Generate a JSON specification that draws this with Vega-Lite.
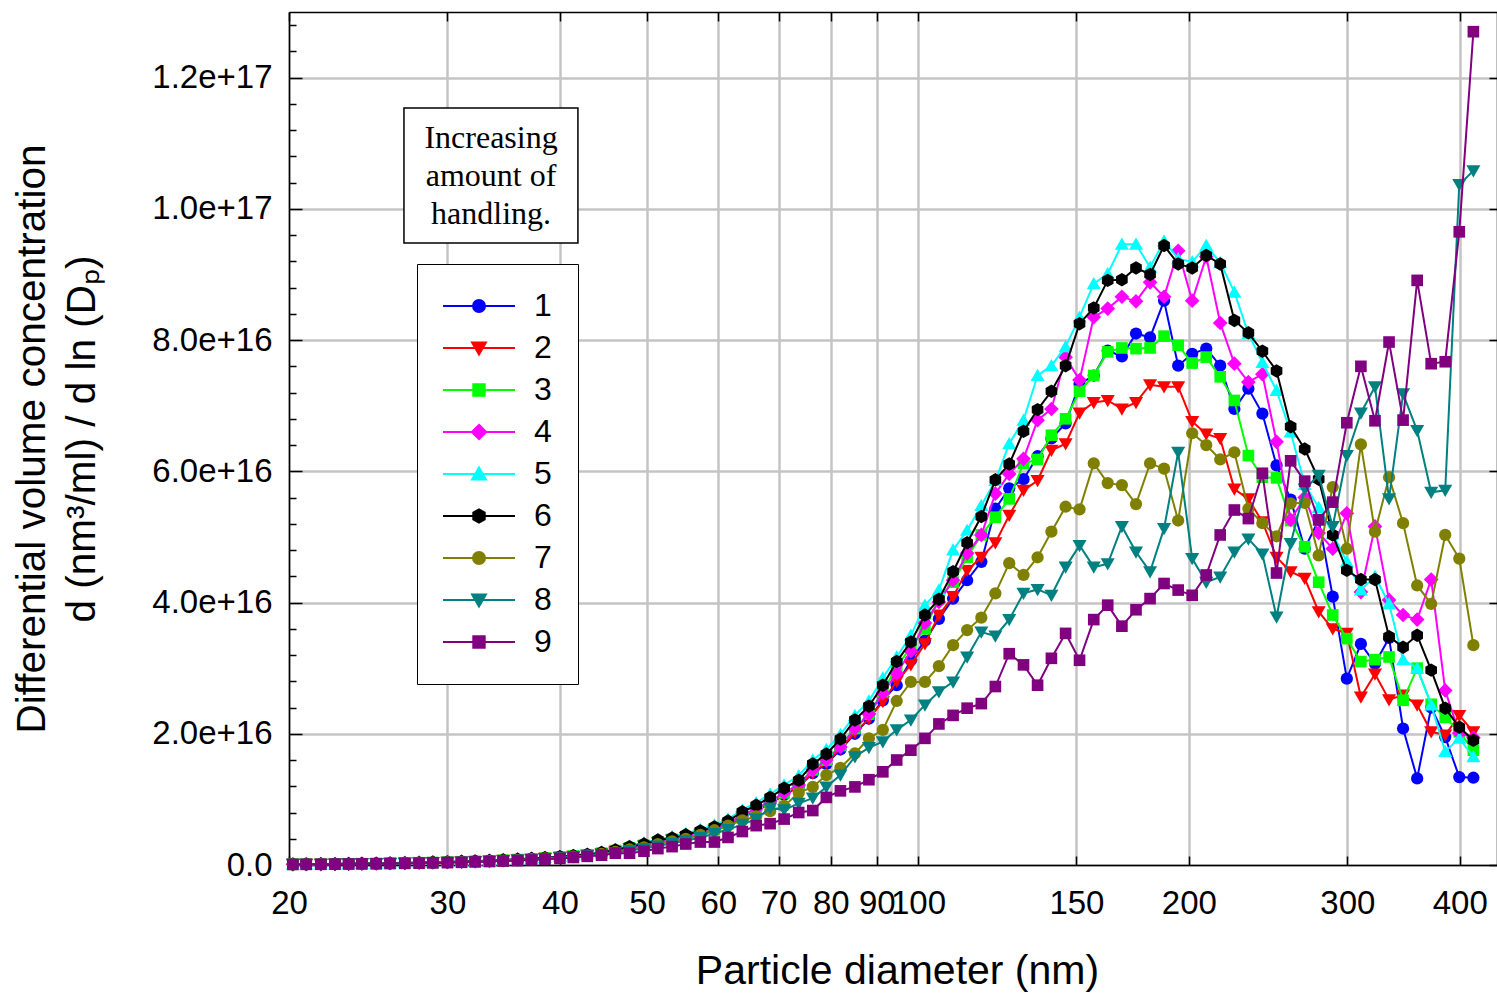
{
"width": 1208, "height": 853,
"autosize": {"type": "none"},
"padding": {"left": 289, "top": 12, "right": 0, "bottom": 129},
"background": "white",
"config": {"view": {"stroke": null}, "font": "Liberation Sans"},
"data": {"values": [
{"d":20.2,"s":1,"v":0.1e15},{"d":20.9,"s":1,"v":0.11e15},{"d":21.7,"s":1,"v":0.13e15},{"d":22.5,"s":1,"v":0.15e15},{"d":23.3,"s":1,"v":0.18e15},{"d":24.1,"s":1,"v":0.2e15},{"d":25.0,"s":1,"v":0.22e15},{"d":25.9,"s":1,"v":0.26e15},{"d":26.9,"s":1,"v":0.3e15},{"d":27.9,"s":1,"v":0.33e15},{"d":28.9,"s":1,"v":0.38e15},{"d":30.0,"s":1,"v":0.43e15},{"d":31.1,"s":1,"v":0.48e15},{"d":32.2,"s":1,"v":0.55e15},{"d":33.4,"s":1,"v":0.62e15},{"d":34.6,"s":1,"v":0.71e15},{"d":35.9,"s":1,"v":0.8e15},{"d":37.2,"s":1,"v":0.91e15},{"d":38.5,"s":1,"v":1.03e15},{"d":40.0,"s":1,"v":1.17e15},{"d":41.4,"s":1,"v":1.33e15},{"d":42.9,"s":1,"v":1.51e15},{"d":44.5,"s":1,"v":1.75e15},{"d":46.1,"s":1,"v":2.1e15},{"d":47.8,"s":1,"v":2.5e15},{"d":49.6,"s":1,"v":2.9e15},{"d":51.4,"s":1,"v":3.4e15},{"d":53.3,"s":1,"v":3.8e15},{"d":55.2,"s":1,"v":4.2e15},{"d":57.3,"s":1,"v":4.7e15},{"d":59.4,"s":1,"v":5.3e15},{"d":61.5,"s":1,"v":6.1e15},{"d":63.8,"s":1,"v":7.3e15},{"d":66.1,"s":1,"v":8.3e15},{"d":68.5,"s":1,"v":9.4e15},{"d":71.0,"s":1,"v":10.7e15},{"d":73.7,"s":1,"v":11.9e15},{"d":76.4,"s":1,"v":14.0e15},{"d":79.1,"s":1,"v":15.4e15},{"d":82.0,"s":1,"v":17.6e15},{"d":85.1,"s":1,"v":20.0e15},{"d":88.2,"s":1,"v":22.3e15},{"d":91.4,"s":1,"v":25.1e15},{"d":94.7,"s":1,"v":27.4e15},{"d":98.2,"s":1,"v":31.2e15},{"d":101.8,"s":1,"v":34.2e15},{"d":105.5,"s":1,"v":37.5e15},{"d":109.4,"s":1,"v":40.6e15},{"d":113.4,"s":1,"v":43.4e15},{"d":117.6,"s":1,"v":46.2e15},{"d":121.9,"s":1,"v":54.3e15},{"d":126.3,"s":1,"v":57.4e15},{"d":131.0,"s":1,"v":58.8e15},{"d":135.8,"s":1,"v":62.3e15},{"d":140.7,"s":1,"v":65.0e15},{"d":145.9,"s":1,"v":67.3e15},{"d":151.2,"s":1,"v":73.3e15},{"d":156.8,"s":1,"v":74.6e15},{"d":162.5,"s":1,"v":78.4e15},{"d":168.5,"s":1,"v":77.5e15},{"d":174.7,"s":1,"v":81.0e15},{"d":181.1,"s":1,"v":80.4e15},{"d":187.7,"s":1,"v":86.0e15},{"d":194.6,"s":1,"v":76.1e15},{"d":201.7,"s":1,"v":77.9e15},{"d":209.1,"s":1,"v":78.7e15},{"d":216.7,"s":1,"v":76.1e15},{"d":224.7,"s":1,"v":69.5e15},{"d":232.9,"s":1,"v":72.6e15},{"d":241.4,"s":1,"v":68.8e15},{"d":250.3,"s":1,"v":60.9e15},{"d":259.5,"s":1,"v":55.7e15},{"d":269.0,"s":1,"v":48.2e15},{"d":278.8,"s":1,"v":52.6e15},{"d":289.0,"s":1,"v":40.9e15},{"d":299.6,"s":1,"v":28.4e15},{"d":310.6,"s":1,"v":33.7e15},{"d":322.0,"s":1,"v":30.7e15},{"d":333.8,"s":1,"v":34.6e15},{"d":346.0,"s":1,"v":20.8e15},{"d":358.7,"s":1,"v":13.2e15},{"d":371.8,"s":1,"v":24.0e15},{"d":385.4,"s":1,"v":19.5e15},{"d":399.5,"s":1,"v":13.4e15},{"d":414.2,"s":1,"v":13.3e15},
{"d":20.2,"s":2,"v":0.1e15},{"d":20.9,"s":2,"v":0.11e15},{"d":21.7,"s":2,"v":0.13e15},{"d":22.5,"s":2,"v":0.15e15},{"d":23.3,"s":2,"v":0.18e15},{"d":24.1,"s":2,"v":0.2e15},{"d":25.0,"s":2,"v":0.22e15},{"d":25.9,"s":2,"v":0.26e15},{"d":26.9,"s":2,"v":0.3e15},{"d":27.9,"s":2,"v":0.33e15},{"d":28.9,"s":2,"v":0.38e15},{"d":30.0,"s":2,"v":0.43e15},{"d":31.1,"s":2,"v":0.48e15},{"d":32.2,"s":2,"v":0.55e15},{"d":33.4,"s":2,"v":0.62e15},{"d":34.6,"s":2,"v":0.71e15},{"d":35.9,"s":2,"v":0.8e15},{"d":37.2,"s":2,"v":0.91e15},{"d":38.5,"s":2,"v":1.03e15},{"d":40.0,"s":2,"v":1.17e15},{"d":41.4,"s":2,"v":1.33e15},{"d":42.9,"s":2,"v":1.51e15},{"d":44.5,"s":2,"v":1.75e15},{"d":46.1,"s":2,"v":2.1e15},{"d":47.8,"s":2,"v":2.5e15},{"d":49.6,"s":2,"v":2.9e15},{"d":51.4,"s":2,"v":3.4e15},{"d":53.3,"s":2,"v":3.8e15},{"d":55.2,"s":2,"v":4.2e15},{"d":57.3,"s":2,"v":4.7e15},{"d":59.4,"s":2,"v":5.3e15},{"d":61.5,"s":2,"v":6.1e15},{"d":63.8,"s":2,"v":7.3e15},{"d":66.1,"s":2,"v":8.3e15},{"d":68.5,"s":2,"v":9.4e15},{"d":71.0,"s":2,"v":10.7e15},{"d":73.7,"s":2,"v":12.0e15},{"d":76.4,"s":2,"v":14.0e15},{"d":79.1,"s":2,"v":15.6e15},{"d":82.0,"s":2,"v":17.8e15},{"d":85.1,"s":2,"v":20.2e15},{"d":88.2,"s":2,"v":22.3e15},{"d":91.4,"s":2,"v":24.9e15},{"d":94.7,"s":2,"v":28.0e15},{"d":98.2,"s":2,"v":30.5e15},{"d":101.8,"s":2,"v":33.7e15},{"d":105.5,"s":2,"v":38.1e15},{"d":109.4,"s":2,"v":40.9e15},{"d":113.4,"s":2,"v":44.9e15},{"d":117.6,"s":2,"v":46.9e15},{"d":121.9,"s":2,"v":49.1e15},{"d":126.3,"s":2,"v":53.3e15},{"d":131.0,"s":2,"v":57.1e15},{"d":135.8,"s":2,"v":58.6e15},{"d":140.7,"s":2,"v":63.2e15},{"d":145.9,"s":2,"v":64.2e15},{"d":151.2,"s":2,"v":68.9e15},{"d":156.8,"s":2,"v":70.5e15},{"d":162.5,"s":2,"v":70.8e15},{"d":168.5,"s":2,"v":69.5e15},{"d":174.7,"s":2,"v":70.5e15},{"d":181.1,"s":2,"v":73.2e15},{"d":187.7,"s":2,"v":72.9e15},{"d":194.6,"s":2,"v":72.9e15},{"d":201.7,"s":2,"v":67.6e15},{"d":209.1,"s":2,"v":65.7e15},{"d":216.7,"s":2,"v":65.0e15},{"d":224.7,"s":2,"v":57.3e15},{"d":232.9,"s":2,"v":55.8e15},{"d":241.4,"s":2,"v":52.3e15},{"d":250.3,"s":2,"v":46.9e15},{"d":259.5,"s":2,"v":44.7e15},{"d":269.0,"s":2,"v":43.7e15},{"d":278.8,"s":2,"v":38.6e15},{"d":289.0,"s":2,"v":36.0e15},{"d":299.6,"s":2,"v":35.3e15},{"d":310.6,"s":2,"v":25.6e15},{"d":322.0,"s":2,"v":29.1e15},{"d":333.8,"s":2,"v":25.2e15},{"d":346.0,"s":2,"v":25.9e15},{"d":358.7,"s":2,"v":24.4e15},{"d":371.8,"s":2,"v":20.3e15},{"d":385.4,"s":2,"v":19.8e15},{"d":399.5,"s":2,"v":22.8e15},{"d":414.2,"s":2,"v":20.3e15},
{"d":20.2,"s":3,"v":0.1e15},{"d":20.9,"s":3,"v":0.12e15},{"d":21.7,"s":3,"v":0.13e15},{"d":22.5,"s":3,"v":0.15e15},{"d":23.3,"s":3,"v":0.18e15},{"d":24.1,"s":3,"v":0.2e15},{"d":25.0,"s":3,"v":0.23e15},{"d":25.9,"s":3,"v":0.27e15},{"d":26.9,"s":3,"v":0.31e15},{"d":27.9,"s":3,"v":0.35e15},{"d":28.9,"s":3,"v":0.39e15},{"d":30.0,"s":3,"v":0.44e15},{"d":31.1,"s":3,"v":0.5e15},{"d":32.2,"s":3,"v":0.57e15},{"d":33.4,"s":3,"v":0.64e15},{"d":34.6,"s":3,"v":0.73e15},{"d":35.9,"s":3,"v":0.83e15},{"d":37.2,"s":3,"v":0.94e15},{"d":38.5,"s":3,"v":1.07e15},{"d":40.0,"s":3,"v":1.21e15},{"d":41.4,"s":3,"v":1.37e15},{"d":42.9,"s":3,"v":1.56e15},{"d":44.5,"s":3,"v":1.8e15},{"d":46.1,"s":3,"v":2.2e15},{"d":47.8,"s":3,"v":2.6e15},{"d":49.6,"s":3,"v":3.0e15},{"d":51.4,"s":3,"v":3.5e15},{"d":53.3,"s":3,"v":3.9e15},{"d":55.2,"s":3,"v":4.3e15},{"d":57.3,"s":3,"v":4.8e15},{"d":59.4,"s":3,"v":5.4e15},{"d":61.5,"s":3,"v":6.3e15},{"d":63.8,"s":3,"v":7.5e15},{"d":66.1,"s":3,"v":8.5e15},{"d":68.5,"s":3,"v":9.7e15},{"d":71.0,"s":3,"v":11.0e15},{"d":73.7,"s":3,"v":12.3e15},{"d":76.4,"s":3,"v":14.5e15},{"d":79.1,"s":3,"v":16.0e15},{"d":82.0,"s":3,"v":18.2e15},{"d":85.1,"s":3,"v":20.8e15},{"d":88.2,"s":3,"v":23.0e15},{"d":91.4,"s":3,"v":26.4e15},{"d":94.7,"s":3,"v":30.2e15},{"d":98.2,"s":3,"v":33.2e15},{"d":101.8,"s":3,"v":36.0e15},{"d":105.5,"s":3,"v":40.6e15},{"d":109.4,"s":3,"v":43.1e15},{"d":113.4,"s":3,"v":46.9e15},{"d":117.6,"s":3,"v":50.3e15},{"d":121.9,"s":3,"v":53.0e15},{"d":126.3,"s":3,"v":55.8e15},{"d":131.0,"s":3,"v":61.2e15},{"d":135.8,"s":3,"v":61.8e15},{"d":140.7,"s":3,"v":65.5e15},{"d":145.9,"s":3,"v":68.0e15},{"d":151.2,"s":3,"v":72.2e15},{"d":156.8,"s":3,"v":74.6e15},{"d":162.5,"s":3,"v":78.2e15},{"d":168.5,"s":3,"v":78.8e15},{"d":174.7,"s":3,"v":78.7e15},{"d":181.1,"s":3,"v":78.8e15},{"d":187.7,"s":3,"v":80.6e15},{"d":194.6,"s":3,"v":79.2e15},{"d":201.7,"s":3,"v":76.5e15},{"d":209.1,"s":3,"v":77.4e15},{"d":216.7,"s":3,"v":74.4e15},{"d":224.7,"s":3,"v":70.8e15},{"d":232.9,"s":3,"v":62.4e15},{"d":241.4,"s":3,"v":59.1e15},{"d":250.3,"s":3,"v":59.0e15},{"d":259.5,"s":3,"v":52.5e15},{"d":269.0,"s":3,"v":48.5e15},{"d":278.8,"s":3,"v":43.1e15},{"d":289.0,"s":3,"v":38.1e15},{"d":299.6,"s":3,"v":34.5e15},{"d":310.6,"s":3,"v":31.0e15},{"d":322.0,"s":3,"v":31.3e15},{"d":333.8,"s":3,"v":31.7e15},{"d":346.0,"s":3,"v":25.1e15},{"d":358.7,"s":3,"v":30.0e15},{"d":371.8,"s":3,"v":24.5e15},{"d":385.4,"s":3,"v":22.5e15},{"d":399.5,"s":3,"v":20.3e15},{"d":414.2,"s":3,"v":17.5e15},
{"d":20.2,"s":4,"v":0.1e15},{"d":20.9,"s":4,"v":0.12e15},{"d":21.7,"s":4,"v":0.13e15},{"d":22.5,"s":4,"v":0.15e15},{"d":23.3,"s":4,"v":0.18e15},{"d":24.1,"s":4,"v":0.2e15},{"d":25.0,"s":4,"v":0.23e15},{"d":25.9,"s":4,"v":0.27e15},{"d":26.9,"s":4,"v":0.31e15},{"d":27.9,"s":4,"v":0.35e15},{"d":28.9,"s":4,"v":0.39e15},{"d":30.0,"s":4,"v":0.44e15},{"d":31.1,"s":4,"v":0.5e15},{"d":32.2,"s":4,"v":0.57e15},{"d":33.4,"s":4,"v":0.64e15},{"d":34.6,"s":4,"v":0.73e15},{"d":35.9,"s":4,"v":0.83e15},{"d":37.2,"s":4,"v":0.94e15},{"d":38.5,"s":4,"v":1.07e15},{"d":40.0,"s":4,"v":1.21e15},{"d":41.4,"s":4,"v":1.37e15},{"d":42.9,"s":4,"v":1.56e15},{"d":44.5,"s":4,"v":1.8e15},{"d":46.1,"s":4,"v":2.2e15},{"d":47.8,"s":4,"v":2.6e15},{"d":49.6,"s":4,"v":3.0e15},{"d":51.4,"s":4,"v":3.6e15},{"d":53.3,"s":4,"v":3.9e15},{"d":55.2,"s":4,"v":4.4e15},{"d":57.3,"s":4,"v":4.9e15},{"d":59.4,"s":4,"v":5.5e15},{"d":61.5,"s":4,"v":6.3e15},{"d":63.8,"s":4,"v":7.6e15},{"d":66.1,"s":4,"v":8.6e15},{"d":68.5,"s":4,"v":9.7e15},{"d":71.0,"s":4,"v":11.0e15},{"d":73.7,"s":4,"v":12.2e15},{"d":76.4,"s":4,"v":14.5e15},{"d":79.1,"s":4,"v":16.0e15},{"d":82.0,"s":4,"v":18.0e15},{"d":85.1,"s":4,"v":20.8e15},{"d":88.2,"s":4,"v":23.0e15},{"d":91.4,"s":4,"v":26.2e15},{"d":94.7,"s":4,"v":29.2e15},{"d":98.2,"s":4,"v":32.6e15},{"d":101.8,"s":4,"v":36.9e15},{"d":105.5,"s":4,"v":40.1e15},{"d":109.4,"s":4,"v":43.4e15},{"d":113.4,"s":4,"v":47.5e15},{"d":117.6,"s":4,"v":50.3e15},{"d":121.9,"s":4,"v":56.6e15},{"d":126.3,"s":4,"v":59.6e15},{"d":131.0,"s":4,"v":61.9e15},{"d":135.8,"s":4,"v":67.8e15},{"d":140.7,"s":4,"v":69.5e15},{"d":145.9,"s":4,"v":77.4e15},{"d":151.2,"s":4,"v":73.9e15},{"d":156.8,"s":4,"v":83.5e15},{"d":162.5,"s":4,"v":84.8e15},{"d":168.5,"s":4,"v":86.6e15},{"d":174.7,"s":4,"v":85.9e15},{"d":181.1,"s":4,"v":88.8e15},{"d":187.7,"s":4,"v":86.6e15},{"d":194.6,"s":4,"v":93.6e15},{"d":201.7,"s":4,"v":86.0e15},{"d":209.1,"s":4,"v":92.7e15},{"d":216.7,"s":4,"v":82.6e15},{"d":224.7,"s":4,"v":76.4e15},{"d":232.9,"s":4,"v":73.6e15},{"d":241.4,"s":4,"v":74.8e15},{"d":250.3,"s":4,"v":64.5e15},{"d":259.5,"s":4,"v":52.6e15},{"d":269.0,"s":4,"v":56.0e15},{"d":278.8,"s":4,"v":50.6e15},{"d":289.0,"s":4,"v":48.2e15},{"d":299.6,"s":4,"v":53.6e15},{"d":310.6,"s":4,"v":41.6e15},{"d":322.0,"s":4,"v":51.6e15},{"d":333.8,"s":4,"v":40.4e15},{"d":346.0,"s":4,"v":38.1e15},{"d":358.7,"s":4,"v":37.4e15},{"d":371.8,"s":4,"v":43.5e15},{"d":385.4,"s":4,"v":26.6e15},{"d":399.5,"s":4,"v":20.1e15},{"d":414.2,"s":4,"v":19.4e15},
{"d":20.2,"s":5,"v":0.11e15},{"d":20.9,"s":5,"v":0.13e15},{"d":21.7,"s":5,"v":0.15e15},{"d":22.5,"s":5,"v":0.17e15},{"d":23.3,"s":5,"v":0.19e15},{"d":24.1,"s":5,"v":0.22e15},{"d":25.0,"s":5,"v":0.25e15},{"d":25.9,"s":5,"v":0.29e15},{"d":26.9,"s":5,"v":0.33e15},{"d":27.9,"s":5,"v":0.37e15},{"d":28.9,"s":5,"v":0.42e15},{"d":30.0,"s":5,"v":0.48e15},{"d":31.1,"s":5,"v":0.54e15},{"d":32.2,"s":5,"v":0.61e15},{"d":33.4,"s":5,"v":0.69e15},{"d":34.6,"s":5,"v":0.79e15},{"d":35.9,"s":5,"v":0.89e15},{"d":37.2,"s":5,"v":1.01e15},{"d":38.5,"s":5,"v":1.15e15},{"d":40.0,"s":5,"v":1.3e15},{"d":41.4,"s":5,"v":1.48e15},{"d":42.9,"s":5,"v":1.68e15},{"d":44.5,"s":5,"v":2.0e15},{"d":46.1,"s":5,"v":2.4e15},{"d":47.8,"s":5,"v":2.9e15},{"d":49.6,"s":5,"v":3.4e15},{"d":51.4,"s":5,"v":3.9e15},{"d":53.3,"s":5,"v":4.3e15},{"d":55.2,"s":5,"v":4.8e15},{"d":57.3,"s":5,"v":5.4e15},{"d":59.4,"s":5,"v":6.1e15},{"d":61.5,"s":5,"v":7.0e15},{"d":63.8,"s":5,"v":8.4e15},{"d":66.1,"s":5,"v":9.5e15},{"d":68.5,"s":5,"v":10.8e15},{"d":71.0,"s":5,"v":12.2e15},{"d":73.7,"s":5,"v":13.6e15},{"d":76.4,"s":5,"v":16.0e15},{"d":79.1,"s":5,"v":17.6e15},{"d":82.0,"s":5,"v":19.9e15},{"d":85.1,"s":5,"v":22.8e15},{"d":88.2,"s":5,"v":25.0e15},{"d":91.4,"s":5,"v":28.5e15},{"d":94.7,"s":5,"v":31.7e15},{"d":98.2,"s":5,"v":35.0e15},{"d":101.8,"s":5,"v":39.6e15},{"d":105.5,"s":5,"v":41.9e15},{"d":109.4,"s":5,"v":48.0e15},{"d":113.4,"s":5,"v":51.0e15},{"d":117.6,"s":5,"v":54.8e15},{"d":121.9,"s":5,"v":58.6e15},{"d":126.3,"s":5,"v":64.2e15},{"d":131.0,"s":5,"v":67.8e15},{"d":135.8,"s":5,"v":74.6e15},{"d":140.7,"s":5,"v":76.1e15},{"d":145.9,"s":5,"v":79.0e15},{"d":151.2,"s":5,"v":83.5e15},{"d":156.8,"s":5,"v":88.6e15},{"d":162.5,"s":5,"v":90.1e15},{"d":168.5,"s":5,"v":94.6e15},{"d":174.7,"s":5,"v":94.6e15},{"d":181.1,"s":5,"v":91.1e15},{"d":187.7,"s":5,"v":95.1e15},{"d":194.6,"s":5,"v":92.4e15},{"d":201.7,"s":5,"v":91.9e15},{"d":209.1,"s":5,"v":94.4e15},{"d":216.7,"s":5,"v":91.8e15},{"d":224.7,"s":5,"v":87.3e15},{"d":232.9,"s":5,"v":81.0e15},{"d":241.4,"s":5,"v":76.6e15},{"d":250.3,"s":5,"v":72.3e15},{"d":259.5,"s":5,"v":66.0e15},{"d":269.0,"s":5,"v":58.0e15},{"d":278.8,"s":5,"v":54.5e15},{"d":289.0,"s":5,"v":50.5e15},{"d":299.6,"s":5,"v":46.2e15},{"d":310.6,"s":5,"v":41.9e15},{"d":322.0,"s":5,"v":44.0e15},{"d":333.8,"s":5,"v":39.8e15},{"d":346.0,"s":5,"v":31.3e15},{"d":358.7,"s":5,"v":30.0e15},{"d":371.8,"s":5,"v":24.4e15},{"d":385.4,"s":5,"v":17.3e15},{"d":399.5,"s":5,"v":19.3e15},{"d":414.2,"s":5,"v":16.5e15},
{"d":20.2,"s":6,"v":0.11e15},{"d":20.9,"s":6,"v":0.12e15},{"d":21.7,"s":6,"v":0.14e15},{"d":22.5,"s":6,"v":0.16e15},{"d":23.3,"s":6,"v":0.19e15},{"d":24.1,"s":6,"v":0.21e15},{"d":25.0,"s":6,"v":0.24e15},{"d":25.9,"s":6,"v":0.28e15},{"d":26.9,"s":6,"v":0.32e15},{"d":27.9,"s":6,"v":0.36e15},{"d":28.9,"s":6,"v":0.41e15},{"d":30.0,"s":6,"v":0.46e15},{"d":31.1,"s":6,"v":0.52e15},{"d":32.2,"s":6,"v":0.59e15},{"d":33.4,"s":6,"v":0.67e15},{"d":34.6,"s":6,"v":0.76e15},{"d":35.9,"s":6,"v":0.86e15},{"d":37.2,"s":6,"v":0.98e15},{"d":38.5,"s":6,"v":1.11e15},{"d":40.0,"s":6,"v":1.26e15},{"d":41.4,"s":6,"v":1.43e15},{"d":42.9,"s":6,"v":1.62e15},{"d":44.5,"s":6,"v":1.9e15},{"d":46.1,"s":6,"v":2.3e15},{"d":47.8,"s":6,"v":2.8e15},{"d":49.6,"s":6,"v":3.2e15},{"d":51.4,"s":6,"v":3.8e15},{"d":53.3,"s":6,"v":4.1e15},{"d":55.2,"s":6,"v":4.6e15},{"d":57.3,"s":6,"v":5.2e15},{"d":59.4,"s":6,"v":5.8e15},{"d":61.5,"s":6,"v":6.7e15},{"d":63.8,"s":6,"v":8.1e15},{"d":66.1,"s":6,"v":9.1e15},{"d":68.5,"s":6,"v":10.3e15},{"d":71.0,"s":6,"v":11.7e15},{"d":73.7,"s":6,"v":12.9e15},{"d":76.4,"s":6,"v":15.4e15},{"d":79.1,"s":6,"v":16.9e15},{"d":82.0,"s":6,"v":19.2e15},{"d":85.1,"s":6,"v":22.1e15},{"d":88.2,"s":6,"v":24.2e15},{"d":91.4,"s":6,"v":27.4e15},{"d":94.7,"s":6,"v":31.0e15},{"d":98.2,"s":6,"v":34.0e15},{"d":101.8,"s":6,"v":38.1e15},{"d":105.5,"s":6,"v":40.5e15},{"d":109.4,"s":6,"v":44.7e15},{"d":113.4,"s":6,"v":49.1e15},{"d":117.6,"s":6,"v":53.1e15},{"d":121.9,"s":6,"v":58.7e15},{"d":126.3,"s":6,"v":61.1e15},{"d":131.0,"s":6,"v":66.1e15},{"d":135.8,"s":6,"v":69.4e15},{"d":140.7,"s":6,"v":72.2e15},{"d":145.9,"s":6,"v":76.1e15},{"d":151.2,"s":6,"v":82.5e15},{"d":156.8,"s":6,"v":84.9e15},{"d":162.5,"s":6,"v":89.1e15},{"d":168.5,"s":6,"v":89.2e15},{"d":174.7,"s":6,"v":91.0e15},{"d":181.1,"s":6,"v":90.0e15},{"d":187.7,"s":6,"v":94.4e15},{"d":194.6,"s":6,"v":91.6e15},{"d":201.7,"s":6,"v":91.0e15},{"d":209.1,"s":6,"v":92.9e15},{"d":216.7,"s":6,"v":91.6e15},{"d":224.7,"s":6,"v":83.0e15},{"d":232.9,"s":6,"v":81.1e15},{"d":241.4,"s":6,"v":78.3e15},{"d":250.3,"s":6,"v":75.3e15},{"d":259.5,"s":6,"v":66.8e15},{"d":269.0,"s":6,"v":63.4e15},{"d":278.8,"s":6,"v":58.8e15},{"d":289.0,"s":6,"v":50.3e15},{"d":299.6,"s":6,"v":44.9e15},{"d":310.6,"s":6,"v":43.5e15},{"d":322.0,"s":6,"v":43.5e15},{"d":333.8,"s":6,"v":34.8e15},{"d":346.0,"s":6,"v":33.2e15},{"d":358.7,"s":6,"v":35.0e15},{"d":371.8,"s":6,"v":29.7e15},{"d":385.4,"s":6,"v":23.9e15},{"d":399.5,"s":6,"v":21.0e15},{"d":414.2,"s":6,"v":19.0e15},
{"d":20.2,"s":7,"v":0.1e15},{"d":20.9,"s":7,"v":0.11e15},{"d":21.7,"s":7,"v":0.13e15},{"d":22.5,"s":7,"v":0.14e15},{"d":23.3,"s":7,"v":0.17e15},{"d":24.1,"s":7,"v":0.19e15},{"d":25.0,"s":7,"v":0.22e15},{"d":25.9,"s":7,"v":0.25e15},{"d":26.9,"s":7,"v":0.29e15},{"d":27.9,"s":7,"v":0.32e15},{"d":28.9,"s":7,"v":0.37e15},{"d":30.0,"s":7,"v":0.41e15},{"d":31.1,"s":7,"v":0.47e15},{"d":32.2,"s":7,"v":0.53e15},{"d":33.4,"s":7,"v":0.6e15},{"d":34.6,"s":7,"v":0.68e15},{"d":35.9,"s":7,"v":0.77e15},{"d":37.2,"s":7,"v":0.88e15},{"d":38.5,"s":7,"v":1.0e15},{"d":40.0,"s":7,"v":1.13e15},{"d":41.4,"s":7,"v":1.29e15},{"d":42.9,"s":7,"v":1.46e15},{"d":44.5,"s":7,"v":1.7e15},{"d":46.1,"s":7,"v":2.0e15},{"d":47.8,"s":7,"v":2.4e15},{"d":49.6,"s":7,"v":2.7e15},{"d":51.4,"s":7,"v":3.2e15},{"d":53.3,"s":7,"v":3.6e15},{"d":55.2,"s":7,"v":4.0e15},{"d":57.3,"s":7,"v":4.6e15},{"d":59.4,"s":7,"v":5.3e15},{"d":61.5,"s":7,"v":6.0e15},{"d":63.8,"s":7,"v":6.8e15},{"d":66.1,"s":7,"v":7.4e15},{"d":68.5,"s":7,"v":8.2e15},{"d":71.0,"s":7,"v":9.0e15},{"d":73.7,"s":7,"v":11.0e15},{"d":76.4,"s":7,"v":11.9e15},{"d":79.1,"s":7,"v":13.7e15},{"d":82.0,"s":7,"v":14.8e15},{"d":85.1,"s":7,"v":17.0e15},{"d":88.2,"s":7,"v":19.3e15},{"d":91.4,"s":7,"v":20.6e15},{"d":94.7,"s":7,"v":25.0e15},{"d":98.2,"s":7,"v":27.9e15},{"d":101.8,"s":7,"v":27.9e15},{"d":105.5,"s":7,"v":30.3e15},{"d":109.4,"s":7,"v":33.5e15},{"d":113.4,"s":7,"v":35.8e15},{"d":117.6,"s":7,"v":37.7e15},{"d":121.9,"s":7,"v":41.4e15},{"d":126.3,"s":7,"v":46.0e15},{"d":131.0,"s":7,"v":44.2e15},{"d":135.8,"s":7,"v":46.9e15},{"d":140.7,"s":7,"v":50.8e15},{"d":145.9,"s":7,"v":54.6e15},{"d":151.2,"s":7,"v":54.2e15},{"d":156.8,"s":7,"v":61.2e15},{"d":162.5,"s":7,"v":58.2e15},{"d":168.5,"s":7,"v":57.9e15},{"d":174.7,"s":7,"v":55.0e15},{"d":181.1,"s":7,"v":61.2e15},{"d":187.7,"s":7,"v":60.4e15},{"d":194.6,"s":7,"v":52.5e15},{"d":201.7,"s":7,"v":65.8e15},{"d":209.1,"s":7,"v":64.0e15},{"d":216.7,"s":7,"v":61.8e15},{"d":224.7,"s":7,"v":62.9e15},{"d":232.9,"s":7,"v":54.3e15},{"d":241.4,"s":7,"v":52.1e15},{"d":250.3,"s":7,"v":50.1e15},{"d":259.5,"s":7,"v":55.1e15},{"d":269.0,"s":7,"v":55.2e15},{"d":278.8,"s":7,"v":47.2e15},{"d":289.0,"s":7,"v":57.6e15},{"d":299.6,"s":7,"v":48.2e15},{"d":310.6,"s":7,"v":64.1e15},{"d":322.0,"s":7,"v":50.8e15},{"d":333.8,"s":7,"v":59.1e15},{"d":346.0,"s":7,"v":52.1e15},{"d":358.7,"s":7,"v":42.6e15},{"d":371.8,"s":7,"v":39.8e15},{"d":385.4,"s":7,"v":50.3e15},{"d":399.5,"s":7,"v":46.7e15},{"d":414.2,"s":7,"v":33.5e15},
{"d":20.2,"s":8,"v":0.1e15},{"d":20.9,"s":8,"v":0.1e15},{"d":21.7,"s":8,"v":0.12e15},{"d":22.5,"s":8,"v":0.14e15},{"d":23.3,"s":8,"v":0.17e15},{"d":24.1,"s":8,"v":0.18e15},{"d":25.0,"s":8,"v":0.21e15},{"d":25.9,"s":8,"v":0.24e15},{"d":26.9,"s":8,"v":0.28e15},{"d":27.9,"s":8,"v":0.31e15},{"d":28.9,"s":8,"v":0.36e15},{"d":30.0,"s":8,"v":0.4e15},{"d":31.1,"s":8,"v":0.45e15},{"d":32.2,"s":8,"v":0.51e15},{"d":33.4,"s":8,"v":0.58e15},{"d":34.6,"s":8,"v":0.66e15},{"d":35.9,"s":8,"v":0.75e15},{"d":37.2,"s":8,"v":0.85e15},{"d":38.5,"s":8,"v":0.97e15},{"d":40.0,"s":8,"v":1.1e15},{"d":41.4,"s":8,"v":1.24e15},{"d":42.9,"s":8,"v":1.41e15},{"d":44.5,"s":8,"v":1.6e15},{"d":46.1,"s":8,"v":1.9e15},{"d":47.8,"s":8,"v":2.2e15},{"d":49.6,"s":8,"v":2.5e15},{"d":51.4,"s":8,"v":2.9e15},{"d":53.3,"s":8,"v":3.3e15},{"d":55.2,"s":8,"v":3.7e15},{"d":57.3,"s":8,"v":4.2e15},{"d":59.4,"s":8,"v":4.8e15},{"d":61.5,"s":8,"v":5.4e15},{"d":63.8,"s":8,"v":6.2e15},{"d":66.1,"s":8,"v":7.0e15},{"d":68.5,"s":8,"v":8.7e15},{"d":71.0,"s":8,"v":8.4e15},{"d":73.7,"s":8,"v":9.4e15},{"d":76.4,"s":8,"v":10.2e15},{"d":79.1,"s":8,"v":11.9e15},{"d":82.0,"s":8,"v":13.7e15},{"d":85.1,"s":8,"v":16.5e15},{"d":88.2,"s":8,"v":17.9e15},{"d":91.4,"s":8,"v":18.8e15},{"d":94.7,"s":8,"v":20.6e15},{"d":98.2,"s":8,"v":22.1e15},{"d":101.8,"s":8,"v":24.4e15},{"d":105.5,"s":8,"v":26.4e15},{"d":109.4,"s":8,"v":27.9e15},{"d":113.4,"s":8,"v":31.7e15},{"d":117.6,"s":8,"v":35.5e15},{"d":121.9,"s":8,"v":34.9e15},{"d":126.3,"s":8,"v":37.4e15},{"d":131.0,"s":8,"v":41.4e15},{"d":135.8,"s":8,"v":42.0e15},{"d":140.7,"s":8,"v":41.1e15},{"d":145.9,"s":8,"v":45.4e15},{"d":151.2,"s":8,"v":48.7e15},{"d":156.8,"s":8,"v":45.4e15},{"d":162.5,"s":8,"v":45.9e15},{"d":168.5,"s":8,"v":51.6e15},{"d":174.7,"s":8,"v":47.7e15},{"d":181.1,"s":8,"v":44.7e15},{"d":187.7,"s":8,"v":51.3e15},{"d":194.6,"s":8,"v":62.9e15},{"d":201.7,"s":8,"v":46.7e15},{"d":209.1,"s":8,"v":43.1e15},{"d":216.7,"s":8,"v":43.9e15},{"d":224.7,"s":8,"v":47.7e15},{"d":232.9,"s":8,"v":49.7e15},{"d":241.4,"s":8,"v":47.4e15},{"d":250.3,"s":8,"v":37.8e15},{"d":259.5,"s":8,"v":49.0e15},{"d":269.0,"s":8,"v":57.3e15},{"d":278.8,"s":8,"v":59.4e15},{"d":289.0,"s":8,"v":51.6e15},{"d":299.6,"s":8,"v":62.4e15},{"d":310.6,"s":8,"v":68.9e15},{"d":322.0,"s":8,"v":72.9e15},{"d":333.8,"s":8,"v":55.8e15},{"d":346.0,"s":8,"v":71.8e15},{"d":358.7,"s":8,"v":66.2e15},{"d":371.8,"s":8,"v":56.8e15},{"d":385.4,"s":8,"v":57.1e15},{"d":399.5,"s":8,"v":103.7e15},{"d":414.2,"s":8,"v":105.8e15},
{"d":20.2,"s":9,"v":0.09e15},{"d":20.9,"s":9,"v":0.1e15},{"d":21.7,"s":9,"v":0.11e15},{"d":22.5,"s":9,"v":0.13e15},{"d":23.3,"s":9,"v":0.15e15},{"d":24.1,"s":9,"v":0.17e15},{"d":25.0,"s":9,"v":0.19e15},{"d":25.9,"s":9,"v":0.22e15},{"d":26.9,"s":9,"v":0.25e15},{"d":27.9,"s":9,"v":0.28e15},{"d":28.9,"s":9,"v":0.32e15},{"d":30.0,"s":9,"v":0.36e15},{"d":31.1,"s":9,"v":0.41e15},{"d":32.2,"s":9,"v":0.47e15},{"d":33.4,"s":9,"v":0.53e15},{"d":34.6,"s":9,"v":0.6e15},{"d":35.9,"s":9,"v":0.68e15},{"d":37.2,"s":9,"v":0.77e15},{"d":38.5,"s":9,"v":0.88e15},{"d":40.0,"s":9,"v":1.0e15},{"d":41.4,"s":9,"v":1.15e15},{"d":42.9,"s":9,"v":1.32e15},{"d":44.5,"s":9,"v":1.5e15},{"d":46.1,"s":9,"v":1.8e15},{"d":47.8,"s":9,"v":1.8e15},{"d":49.6,"s":9,"v":2.1e15},{"d":51.4,"s":9,"v":2.5e15},{"d":53.3,"s":9,"v":2.8e15},{"d":55.2,"s":9,"v":3.2e15},{"d":57.3,"s":9,"v":3.5e15},{"d":59.4,"s":9,"v":3.5e15},{"d":61.5,"s":9,"v":4.2e15},{"d":63.8,"s":9,"v":5.1e15},{"d":66.1,"s":9,"v":6.0e15},{"d":68.5,"s":9,"v":6.3e15},{"d":71.0,"s":9,"v":7.0e15},{"d":73.7,"s":9,"v":8.0e15},{"d":76.4,"s":9,"v":8.3e15},{"d":79.1,"s":9,"v":10.3e15},{"d":82.0,"s":9,"v":11.3e15},{"d":85.1,"s":9,"v":11.9e15},{"d":88.2,"s":9,"v":13.0e15},{"d":91.4,"s":9,"v":14.2e15},{"d":94.7,"s":9,"v":16.0e15},{"d":98.2,"s":9,"v":17.5e15},{"d":101.8,"s":9,"v":19.3e15},{"d":105.5,"s":9,"v":21.5e15},{"d":109.4,"s":9,"v":22.8e15},{"d":113.4,"s":9,"v":23.9e15},{"d":117.6,"s":9,"v":24.6e15},{"d":121.9,"s":9,"v":27.2e15},{"d":126.3,"s":9,"v":32.2e15},{"d":131.0,"s":9,"v":30.5e15},{"d":135.8,"s":9,"v":27.4e15},{"d":140.7,"s":9,"v":31.5e15},{"d":145.9,"s":9,"v":35.3e15},{"d":151.2,"s":9,"v":31.2e15},{"d":156.8,"s":9,"v":37.4e15},{"d":162.5,"s":9,"v":39.6e15},{"d":168.5,"s":9,"v":36.4e15},{"d":174.7,"s":9,"v":38.9e15},{"d":181.1,"s":9,"v":40.6e15},{"d":187.7,"s":9,"v":42.9e15},{"d":194.6,"s":9,"v":41.9e15},{"d":201.7,"s":9,"v":41.1e15},{"d":209.1,"s":9,"v":44.2e15},{"d":216.7,"s":9,"v":50.3e15},{"d":224.7,"s":9,"v":54.1e15},{"d":232.9,"s":9,"v":52.8e15},{"d":241.4,"s":9,"v":59.7e15},{"d":250.3,"s":9,"v":44.5e15},{"d":259.5,"s":9,"v":61.6e15},{"d":269.0,"s":9,"v":58.5e15},{"d":278.8,"s":9,"v":52.6e15},{"d":289.0,"s":9,"v":55.3e15},{"d":299.6,"s":9,"v":67.4e15},{"d":310.6,"s":9,"v":76.0e15},{"d":322.0,"s":9,"v":67.7e15},{"d":333.8,"s":9,"v":79.7e15},{"d":346.0,"s":9,"v":67.8e15},{"d":358.7,"s":9,"v":89.1e15},{"d":371.8,"s":9,"v":76.4e15},{"d":385.4,"s":9,"v":76.7e15},{"d":399.5,"s":9,"v":96.5e15},{"d":414.2,"s":9,"v":127.0e15}
]},
"resolve": {"axis": {"x": "independent", "y": "independent"}},
"layer": [
{
 "transform": [{"filter": "datum.s == 1"}],
 "mark": {"type": "line", "strokeWidth": 2, "color": "#0000ff"},
 "encoding": {
  "x": {"field": "d", "type": "quantitative", "scale": {"type": "log", "domain": [20, 440], "nice": false},
   "axis": {"orient": "bottom", "values": [20,30,40,50,60,70,80,90,100,150,200,300,400], "format": "d", "labelFont": "Liberation Sans", "labelFontSize": 33, "labelColor": "black", "labelPadding": 22, "labelOverlap": false, "labelFlush": false, "labelBound": false, "ticks": false, "domain": false, "grid": true, "gridColor": "#c4c4c4", "gridWidth": 2.5, "title": "Particle diameter (nm)", "titleFont": "Liberation Sans", "titleFontSize": 41, "titleFontWeight": "normal", "titleColor": "black", "titlePadding": 31, "titleX": 608}},
  "y": {"field": "v", "type": "quantitative", "scale": {"domain": [0, 1.3e17], "nice": false, "zero": false},
   "axis": {"orient": "left", "values": [0, 2e16, 4e16, 6e16, 8e16, 1e17, 1.2e17], "labelExpr": "datum.value == 0 ? '0.0' : format(datum.value, '.1e')", "labelFont": "Liberation Sans", "labelFontSize": 33, "labelColor": "black", "labelPadding": 17, "ticks": false, "domain": false, "grid": true, "gridColor": "#c4c4c4", "gridWidth": 2.5, "title": ["Differential volume concentration", "d (nm³/ml) / d ln (Dₚ)"], "titleFont": "Liberation Sans", "titleFontSize": 40.5, "titleFontWeight": "normal", "titleColor": "black", "titleLineHeight": 50, "titlePadding": 48}}
 }
},
{
 "transform": [{"filter": "datum.s == 1"}],
 "mark": {"type": "point", "shape": "circle", "filled": true, "size": 150, "opacity": 1, "color": "#0000ff"},
 "encoding": {
  "x": {"field": "d", "type": "quantitative", "axis": {"orient": "bottom", "values": [20,30,40,50,60,70,80,90,100,150,200,300,400], "labels": false, "grid": false, "ticks": true, "tickSize": -9, "tickWidth": 1.5, "tickColor": "black", "domain": true, "domainColor": "black", "domainWidth": 1.5, "title": null}},
  "y": {"field": "v", "type": "quantitative", "axis": {"orient": "left", "values": [0,4e15,8e15,1.2e16,1.6e16,2.4e16,2.8e16,3.2e16,3.6e16,4.4e16,4.8e16,5.2e16,5.6e16,6.4e16,6.8e16,7.2e16,7.6e16,8.4e16,8.8e16,9.2e16,9.6e16,1.04e17,1.08e17,1.12e17,1.16e17,1.24e17,1.28e17], "labels": false, "grid": false, "ticks": true, "tickSize": -7, "tickWidth": 1.5, "tickColor": "black", "domain": true, "domainColor": "black", "domainWidth": 1.5, "title": null}}
 }
},
{
 "transform": [{"filter": "datum.s == 2"}],
 "mark": {"type": "line", "strokeWidth": 2, "color": "#ff0000"},
 "encoding": {"x": {"field": "d", "type": "quantitative", "axis": null},
  "y": {"field": "v", "type": "quantitative", "axis": {"orient": "left", "values": [2e16, 4e16, 6e16, 8e16, 1e17, 1.2e17], "labels": false, "grid": false, "ticks": true, "tickSize": -13, "tickWidth": 1.5, "tickColor": "black", "domain": false, "title": null}}}
},
{
 "transform": [{"filter": "datum.s == 2"}],
 "mark": {"type": "point", "shape": "M-1.15,-0.9L1.15,-0.9L0,1.1Z", "filled": true, "size": 150, "opacity": 1, "color": "#ff0000"},
 "encoding": {"x": {"field": "d", "type": "quantitative", "axis": null}, "y": {"field": "v", "type": "quantitative", "axis": null}}
},
{
 "transform": [{"filter": "datum.s == 3"}],
 "mark": {"type": "line", "strokeWidth": 2, "color": "#00ff00"},
 "encoding": {"x": {"field": "d", "type": "quantitative", "axis": null}, "y": {"field": "v", "type": "quantitative", "axis": null}}
},
{
 "transform": [{"filter": "datum.s == 3"}],
 "mark": {"type": "point", "shape": "M-0.95,-0.95H0.95V0.95H-0.95Z", "filled": true, "size": 150, "opacity": 1, "color": "#00ff00"},
 "encoding": {"x": {"field": "d", "type": "quantitative", "axis": null}, "y": {"field": "v", "type": "quantitative", "axis": null}}
},
{
 "transform": [{"filter": "datum.s == 4"}],
 "mark": {"type": "line", "strokeWidth": 2, "color": "#ff00ff"},
 "encoding": {"x": {"field": "d", "type": "quantitative", "axis": null}, "y": {"field": "v", "type": "quantitative", "axis": null}}
},
{
 "transform": [{"filter": "datum.s == 4"}],
 "mark": {"type": "point", "shape": "M0,-1.2L1.2,0L0,1.2L-1.2,0Z", "filled": true, "size": 150, "opacity": 1, "color": "#ff00ff"},
 "encoding": {"x": {"field": "d", "type": "quantitative", "axis": null}, "y": {"field": "v", "type": "quantitative", "axis": null}}
},
{
 "transform": [{"filter": "datum.s == 5"}],
 "mark": {"type": "line", "strokeWidth": 2, "color": "#00ffff"},
 "encoding": {"x": {"field": "d", "type": "quantitative", "axis": null}, "y": {"field": "v", "type": "quantitative", "axis": null}}
},
{
 "transform": [{"filter": "datum.s == 5"}],
 "mark": {"type": "point", "shape": "M0,-1.1L1.15,0.9L-1.15,0.9Z", "filled": true, "size": 150, "opacity": 1, "color": "#00ffff"},
 "encoding": {"x": {"field": "d", "type": "quantitative", "axis": null}, "y": {"field": "v", "type": "quantitative", "axis": null}}
},
{
 "transform": [{"filter": "datum.s == 6"}],
 "mark": {"type": "line", "strokeWidth": 2, "color": "#000000"},
 "encoding": {"x": {"field": "d", "type": "quantitative", "axis": null}, "y": {"field": "v", "type": "quantitative", "axis": null}}
},
{
 "transform": [{"filter": "datum.s == 6"}],
 "mark": {"type": "point", "shape": "M0,-1.1L0.95,-0.55L0.95,0.55L0,1.1L-0.95,0.55L-0.95,-0.55Z", "filled": true, "size": 150, "opacity": 1, "color": "#000000"},
 "encoding": {"x": {"field": "d", "type": "quantitative", "axis": null}, "y": {"field": "v", "type": "quantitative", "axis": null}}
},
{
 "transform": [{"filter": "datum.s == 7"}],
 "mark": {"type": "line", "strokeWidth": 2, "color": "#808000"},
 "encoding": {"x": {"field": "d", "type": "quantitative", "axis": null}, "y": {"field": "v", "type": "quantitative", "axis": null}}
},
{
 "transform": [{"filter": "datum.s == 7"}],
 "mark": {"type": "point", "shape": "circle", "filled": true, "size": 150, "opacity": 1, "color": "#808000"},
 "encoding": {"x": {"field": "d", "type": "quantitative", "axis": null}, "y": {"field": "v", "type": "quantitative", "axis": null}}
},
{
 "transform": [{"filter": "datum.s == 8"}],
 "mark": {"type": "line", "strokeWidth": 2, "color": "#008080"},
 "encoding": {"x": {"field": "d", "type": "quantitative", "axis": null}, "y": {"field": "v", "type": "quantitative", "axis": null}}
},
{
 "transform": [{"filter": "datum.s == 8"}],
 "mark": {"type": "point", "shape": "M-1.15,-0.9L1.15,-0.9L0,1.1Z", "filled": true, "size": 150, "opacity": 1, "color": "#008080"},
 "encoding": {"x": {"field": "d", "type": "quantitative", "axis": null}, "y": {"field": "v", "type": "quantitative", "axis": null}}
},
{
 "transform": [{"filter": "datum.s == 9"}],
 "mark": {"type": "line", "strokeWidth": 2, "color": "#800080"},
 "encoding": {"x": {"field": "d", "type": "quantitative", "axis": null}, "y": {"field": "v", "type": "quantitative", "axis": null}}
},
{
 "transform": [{"filter": "datum.s == 9"}],
 "mark": {"type": "point", "shape": "M-0.95,-0.95H0.95V0.95H-0.95Z", "filled": true, "size": 150, "opacity": 1, "color": "#800080"},
 "encoding": {"x": {"field": "d", "type": "quantitative", "axis": null}, "y": {"field": "v", "type": "quantitative", "axis": null}}
},
{
 "transform": [{"filter": "datum.s > 99"}],
 "mark": {"type": "point", "filled": true, "opacity": 1},
 "encoding": {
  "x": {"field": "d", "type": "quantitative", "axis": {"orient": "top", "values": [20,30,40,50,60,70,80,90,100,150,200,300,400], "labels": false, "grid": false, "ticks": true, "tickSize": -9, "tickWidth": 1.5, "tickColor": "black", "domain": true, "domainColor": "black", "domainWidth": 1.5, "title": null}},
  "y": {"field": "v", "type": "quantitative", "axis": {"orient": "right", "values": [0, 2e16, 4e16, 6e16, 8e16, 1e17, 1.2e17], "labels": false, "grid": false, "ticks": true, "tickSize": -8, "tickWidth": 1.5, "tickColor": "black", "domain": true, "domainColor": "black", "domainWidth": 1.5, "title": null}},
  "fill": {"field": "s", "type": "nominal", "scale": {"domain": [1,2,3,4,5,6,7,8,9], "range": ["#0000ff","#ff0000","#00ff00","#ff00ff","#00ffff","#000000","#808000","#008080","#800080"]},
   "legend": {"orient": "none", "legendX": 128, "legendY": 252, "title": null, "padding": 26, "rowPadding": 10, "symbolSize": 144, "symbolStrokeWidth": 2, "symbolOffset": 20, "labelOffset": 39, "labelFont": "Liberation Sans", "labelFontSize": 32, "labelColor": "black", "fillColor": "white", "strokeColor": "black"}},
  "stroke": {"field": "s", "type": "nominal", "scale": {"domain": [1,2,3,4,5,6,7,8,9], "range": ["#0000ff","#ff0000","#00ff00","#ff00ff","#00ffff","#000000","#808000","#008080","#800080"]},
   "legend": {"orient": "none", "legendX": 128, "legendY": 252, "title": null, "padding": 26, "rowPadding": 10, "symbolSize": 144, "symbolStrokeWidth": 2, "symbolOffset": 20, "labelOffset": 39, "labelFont": "Liberation Sans", "labelFontSize": 32, "labelColor": "black", "fillColor": "white", "strokeColor": "black"}},
  "shape": {"field": "s", "type": "nominal", "scale": {"domain": [1,2,3,4,5,6,7,8,9], "range": [
    "M-6,0H6M1,0A1,1,0,1,1,-1,0A1,1,0,1,1,1,0Z",
    "M-6,0H6M-1.15,-0.9L1.15,-0.9L0,1.1Z",
    "M-6,0H6M-0.95,-0.95H0.95V0.95H-0.95Z",
    "M-6,0H6M0,-1.2L1.2,0L0,1.2L-1.2,0Z",
    "M-6,0H6M0,-1.1L1.15,0.9L-1.15,0.9Z",
    "M-6,0H6M0,-1.1L0.95,-0.55L0.95,0.55L0,1.1L-0.95,0.55L-0.95,-0.55Z",
    "M-6,0H6M1,0A1,1,0,1,1,-1,0A1,1,0,1,1,1,0Z",
    "M-6,0H6M-1.15,-0.9L1.15,-0.9L0,1.1Z",
    "M-6,0H6M-0.95,-0.95H0.95V0.95H-0.95Z"]},
   "legend": {"orient": "none", "legendX": 128, "legendY": 252, "title": null, "padding": 26, "rowPadding": 10, "symbolSize": 144, "symbolStrokeWidth": 2, "symbolOffset": 20, "labelOffset": 39, "labelFont": "Liberation Sans", "labelFontSize": 32, "labelColor": "black", "fillColor": "white", "strokeColor": "black"}}
 }
},
{
 "data": {"values": [{}]},
 "mark": {"type": "rect", "fill": "white", "stroke": "black", "strokeWidth": 1.5},
 "encoding": {
  "x": {"datum": 26.84, "type": "quantitative", "axis": null},
  "x2": {"datum": 41.89},
  "y": {"datum": 1.1537e17, "type": "quantitative", "axis": null},
  "y2": {"datum": 9.479e16}
 }
},
{
 "data": {"values": [{}]},
 "mark": {"type": "text", "text": ["Increasing", "amount of", "handling."], "font": "Liberation Serif", "fontSize": 32, "lineHeight": 38, "align": "center", "baseline": "alphabetic", "color": "black"},
 "encoding": {
  "x": {"datum": 33.54, "type": "quantitative", "axis": null},
  "y": {"datum": 1.0927e17, "type": "quantitative", "axis": null}
 }
}
]
}
